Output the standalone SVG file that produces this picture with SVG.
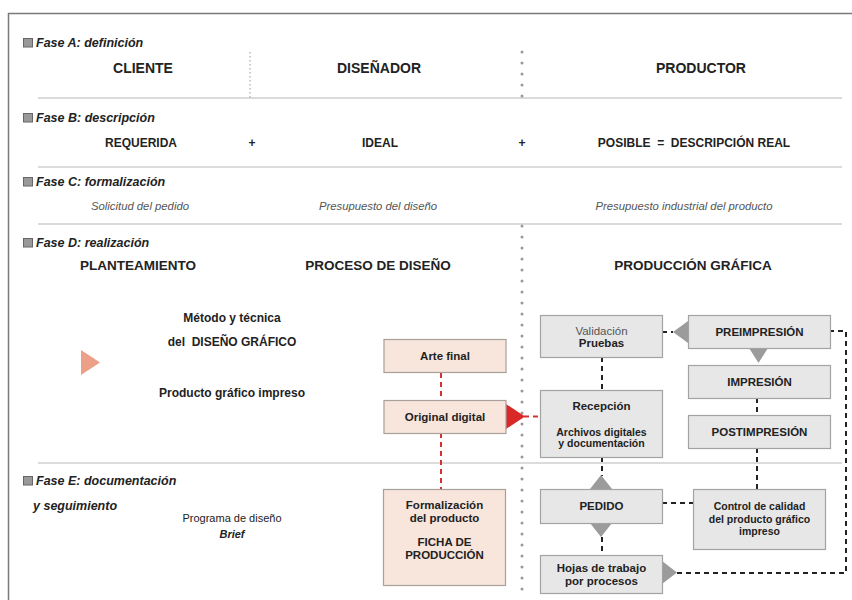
<svg xmlns="http://www.w3.org/2000/svg" width="852" height="600" viewBox="0 0 852 600">
  <defs>
    <style>
      text { font-family: "Liberation Sans", Arial, sans-serif; fill: #222; }
      .phase { font-size: 12.5px; font-weight: bold; font-style: italic; }
      .head { font-size: 14px; font-weight: bold; text-anchor: middle; }
      .row { font-size: 12px; font-weight: bold; text-anchor: middle; }
      .note { font-size: 11.3px; font-style: italic; fill: #555; text-anchor: middle; }
      .sub { font-size: 13.5px; font-weight: bold; text-anchor: middle; }
      .mid { font-size: 12px; font-weight: bold; text-anchor: middle; }
      .lbl { font-size: 11.5px; font-weight: bold; text-anchor: middle; }
      .sm { font-size: 10.5px; font-weight: bold; text-anchor: middle; }
      .plain { font-size: 11.5px; text-anchor: middle; fill: #555; }
      .mark { fill: #999; stroke: #666; stroke-width: 1; }
      .sep { stroke: #cfcfcf; stroke-width: 1.5; }
      .dots { stroke: #999; stroke-width: 3; stroke-linecap: round; stroke-dasharray: 0 11; fill: none; }
      .beige { fill: #f8e5db; stroke: #a8a09a; stroke-width: 1.2; }
      .grey { fill: #e7e7e7; stroke: #a3a3a3; stroke-width: 1.2; }
      .red { stroke: #d83030; stroke-width: 2; stroke-dasharray: 5 4; fill: none; }
      .blk { stroke: #222; stroke-width: 2; stroke-dasharray: 5 4; fill: none; }
      .tri { fill: #9b9b9b; }
    </style>
  </defs>

  <rect width="852" height="600" fill="#ffffff"/>

  <!-- outer frame: top and left edges -->
  <path d="M8.5 600 V13.5 H852" fill="none" stroke="#7a7a7a" stroke-width="1.5"/>

  <!-- phase separators -->
  <line class="sep" x1="38" y1="98" x2="842" y2="98"/>
  <line class="sep" x1="38" y1="167" x2="842" y2="167"/>
  <line class="sep" x1="38" y1="224" x2="842" y2="224"/>
  <line class="sep" x1="38" y1="463" x2="842" y2="463"/>

  <!-- column dividers -->
  <line x1="250" y1="52" x2="250" y2="98" stroke="#aaa" stroke-width="1.2" stroke-dasharray="1.5 2.5"/>
  <line class="dots" x1="522" y1="52" x2="522" y2="99"/>
  <line class="dots" x1="522" y1="226" x2="522" y2="590"/>

  <!-- Fase A -->
  <rect class="mark" x="23.5" y="38.5" width="9" height="8.5"/>
  <text class="phase" x="36" y="47">Fase A: definición</text>
  <text class="head" x="143" y="73">CLIENTE</text>
  <text class="head" x="379" y="73">DISEÑADOR</text>
  <text class="head" x="701" y="73">PRODUCTOR</text>

  <!-- Fase B -->
  <rect class="mark" x="23.5" y="113.5" width="9" height="8.5"/>
  <text class="phase" x="36" y="122">Fase B: descripción</text>
  <text class="row" x="141" y="147">REQUERIDA</text>
  <text class="row" x="252" y="147">+</text>
  <text class="row" x="380" y="147">IDEAL</text>
  <text class="row" x="522" y="147">+</text>
  <text class="row" x="694" y="147" xml:space="preserve">POSIBLE  =  DESCRIPCIÓN REAL</text>

  <!-- Fase C -->
  <rect class="mark" x="23.5" y="177.5" width="9" height="8.5"/>
  <text class="phase" x="36" y="186">Fase C: formalización</text>
  <text class="note" x="140" y="210">Solicitud del pedido</text>
  <text class="note" x="378" y="210">Presupuesto del diseño</text>
  <text class="note" x="684" y="210">Presupuesto industrial del producto</text>

  <!-- Fase D -->
  <rect class="mark" x="23.5" y="238.5" width="9" height="8.5"/>
  <text class="phase" x="36" y="247">Fase D: realización</text>
  <text class="sub" x="138" y="270">PLANTEAMIENTO</text>
  <text class="sub" x="378" y="270">PROCESO DE DISEÑO</text>
  <text class="sub" x="693" y="270">PRODUCCIÓN GRÁFICA</text>
  <text class="mid" x="232" y="322">Método y técnica</text>
  <text class="mid" x="232" y="346" xml:space="preserve">del  DISEÑO GRÁFICO</text>
  <text class="mid" x="232" y="397">Producto gráfico impreso</text>
  <polygon points="81,350 100,362.5 81,375" fill="#eba087"/>

  <!-- Fase E -->
  <rect class="mark" x="23.5" y="476.5" width="9" height="8.5"/>
  <text class="phase" x="36" y="485">Fase E: documentación</text>
  <text class="phase" x="33" y="510">y seguimiento</text>
  <text x="232" y="522" font-size="11" text-anchor="middle" fill="#444">Programa de diseño</text>
  <text x="232" y="538" font-size="11" font-weight="bold" font-style="italic" text-anchor="middle">Brief</text>

  <!-- connectors -->
  <g id="connectors">
    <line class="red" x1="441" y1="373" x2="441" y2="400"/>
    <line class="red" x1="441" y1="433" x2="441" y2="489"/>
    <line class="red" x1="524" y1="416.5" x2="540" y2="416.5"/>
    <polygon points="506,404 525,416.5 506,429" fill="#d82828"/>

    <line class="blk" x1="662" y1="332" x2="673" y2="332" stroke-dasharray="5 3"/>
    <polygon class="tri" points="688,321 673,332 688,343"/>
    <polygon class="tri" points="749,348 768,348 758.5,363"/>
    <line class="blk" x1="602" y1="357" x2="602" y2="390"/>
    <line class="blk" x1="757" y1="398" x2="757" y2="415"/>
    <line class="blk" x1="757" y1="448" x2="757" y2="489"/>
    <line class="blk" x1="602" y1="457" x2="602" y2="476"/>
    <polygon class="tri" points="590,489 601,475 612,489"/>
    <polygon class="tri" points="590,523 612,523 601,537"/>
    <line class="blk" x1="602" y1="537" x2="602" y2="555"/>
    <line class="blk" x1="662" y1="503" x2="693" y2="503"/>
    <polygon class="tri" points="662,561 677,572.5 662,584"/>
    <path class="blk" d="M677 573 H846 V331 H830"/>
  </g>

  <!-- design process nodes -->
  <g id="arte-final">
    <rect class="beige" x="384" y="339.5" width="122" height="33"/>
    <text class="lbl" x="445" y="360">Arte final</text>
  </g>
  <g id="original-digital">
    <rect class="beige" x="384" y="400.5" width="122" height="33"/>
    <text class="lbl" x="445" y="421">Original digital</text>
  </g>
  <g id="formalizacion">
    <rect class="beige" x="383.5" y="489.5" width="122" height="96"/>
    <text class="lbl" x="444.5" y="509">Formalización</text>
    <text class="lbl" x="444.5" y="522">del producto</text>
    <text class="lbl" x="444.5" y="546">FICHA DE</text>
    <text class="lbl" x="444.5" y="559">PRODUCCIÓN</text>
  </g>

  <!-- production nodes -->
  <g id="validacion">
    <rect class="grey" x="540.5" y="315.5" width="122" height="42"/>
    <text class="plain" x="601.5" y="335">Validación</text>
    <text class="lbl" x="601.5" y="347">Pruebas</text>
  </g>
  <g id="preimpresion">
    <rect class="grey" x="688.5" y="315.5" width="142" height="33"/>
    <text class="lbl" x="759.5" y="336">PREIMPRESIÓN</text>
  </g>
  <g id="impresion">
    <rect class="grey" x="688.5" y="365.5" width="142" height="33"/>
    <text class="lbl" x="759.5" y="386">IMPRESIÓN</text>
  </g>
  <g id="postimpresion">
    <rect class="grey" x="688.5" y="415.5" width="142" height="33"/>
    <text class="lbl" x="759.5" y="436">POSTIMPRESIÓN</text>
  </g>
  <g id="recepcion">
    <rect class="grey" x="540.5" y="390.5" width="122" height="67"/>
    <text class="lbl" x="601.5" y="410">Recepción</text>
    <text class="sm" x="601.5" y="436">Archivos digitales</text>
    <text class="sm" x="601.5" y="447">y documentación</text>
  </g>
  <g id="pedido">
    <rect class="grey" x="540.5" y="489.5" width="122" height="34"/>
    <text class="lbl" x="601.5" y="510">PEDIDO</text>
  </g>
  <g id="control-calidad">
    <rect class="grey" x="693.5" y="489.5" width="132" height="60"/>
    <text class="sm" x="759.5" y="510">Control de calidad</text>
    <text class="sm" x="759.5" y="523">del producto gráfico</text>
    <text class="sm" x="759.5" y="535">impreso</text>
  </g>
  <g id="hojas-trabajo">
    <rect class="grey" x="540.5" y="555.5" width="122" height="38"/>
    <text class="lbl" x="601.5" y="572">Hojas de trabajo</text>
    <text class="lbl" x="601.5" y="585">por procesos</text>
  </g>
</svg>
